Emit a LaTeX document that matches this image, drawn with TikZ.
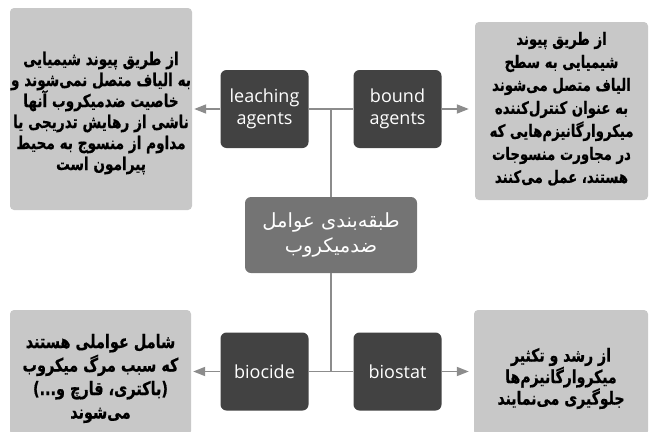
\documentclass[tikz,border=0pt]{standalone}
\usepackage{fontspec}
\setmainfont{Open Sans}
\newfontfamily\fa[Script=Arabic]{DejaVu Sans}
\newfontfamily\fab[Script=Arabic,FakeStretch=0.78,FakeBold=0.6]{DejaVu Sans Bold}
\TeXXeTstate=1
\usetikzlibrary{arrows.meta}
\definecolor{lightbox}{HTML}{C8C8C8}
\definecolor{darkbox}{HTML}{424242}
\definecolor{midbox}{HTML}{747474}
\definecolor{linecol}{HTML}{8C8C8C}
\newcommand{\RL}[1]{\beginR #1\endR}
\tikzset{
  infobox/.style={fill=lightbox, rounded corners=4pt, inner sep=0pt},
  infotext/.style={align=center, inner sep=0pt, text=black},
  termbox/.style={fill=darkbox, rounded corners=6pt, align=center, inner sep=0pt,
    minimum width=88pt, minimum height=78pt, text=white, font=\fontsize{18}{22}\selectfont},
  rootbox/.style={fill=midbox, rounded corners=6pt, align=center, inner sep=0pt,
    minimum width=172pt, minimum height=76pt, text=white, font=\fa\fontsize{19.5}{25}\selectfont},
  conn/.style={draw=linecol, line width=1.8pt},
  arr/.style={conn, -{Triangle[length=12pt,width=9pt]}, shorten >=2pt}
}
\begin{document}
\begin{tikzpicture}[x=1pt,y=-1pt]
\useasboundingbox (0,0) rectangle (652,431);
% info boxes
\node[infobox, minimum width=182pt, minimum height=202pt] (lt) at (101,109) {};
\node[infotext, font=\fab\fontsize{17.5}{21}\selectfont] (ltt) at ([yshift=-4pt]lt.center)
  {\RL{از طریق پیوند شیمیایی}\\\RL{به الیاف متصل نمی‌شوند و}\\\RL{خاصیت ضدمیکروب آنها}\\\RL{ناشی از رهایش تدریجی یا}\\\RL{مداوم از منسوج به محیط}\\\RL{پیرامون است}};
\node[infobox, minimum width=173pt, minimum height=178pt] (rt) at (561.5,111) {};
\node[infotext, font=\fab\fontsize{17}{23}\selectfont] (rtt) at ([yshift=2pt]rt.center)
  {\RL{از طریق پیوند}\\\RL{شیمیایی به سطح}\\\RL{الیاف متصل می‌شوند}\\\RL{به عنوان کنترل‌کننده}\\\RL{میکروارگانیزم‌هایی که}\\\RL{در مجاورت منسوجات}\\\RL{هستند، عمل می‌کنند}};
\node[infobox, minimum width=181pt, minimum height=125pt] (lb) at (100.5,372.5) {};
\node[infotext, font=\fab\fontsize{18.5}{23.5}\selectfont] (lbt) at ([yshift=-6pt]lb.center)
  {\RL{شامل عواملی هستند}\\\RL{که سبب مرگ میکروب}\\\RL{(باکتری، قارچ و...)}\\\RL{می‌شوند}};
\node[infobox, minimum width=174pt, minimum height=125pt] (rb) at (561,372.5) {};
\node[infotext, font=\fab\fontsize{18}{21.5}\selectfont] (rbt) at ([yshift=-6pt]rb.center)
  {\RL{از رشد و تکثیر}\\\RL{میکروارگانیزم‌ها}\\\RL{جلوگیری می‌نمایند}};
% term boxes
\node[termbox] (leach) at (264.5,109) {leaching\\agents};
\node[termbox] (bound) at (397.5,109) {bound\\agents};
\node[termbox] (biocide) at (264.5,371.5) {biocide};
\node[termbox] (biostat) at (397.5,371.5) {biostat};
\node[rootbox] (root) at (331,235) {\RL{طبقه‌بندی عوامل}\\\RL{ضدمیکروب}};
% connectors
\draw[conn] (leach.east) -- (bound.west);
\draw[conn] (root.north) -- (root.north |- leach.east);
\draw[conn] (biocide.east) -- (biostat.west);
\draw[conn] (root.south) -- (root.south |- biocide.east);
\draw[arr] (leach.west) -- (leach.west -| lt.east);
\draw[arr, shorten >=6pt] (bound.east) -- (bound.east -| rt.west);
\draw[arr] (biocide.west) -- (biocide.west -| lb.east);
\draw[arr, shorten >=5pt] (biostat.east) -- (biostat.east -| rb.west);
\end{tikzpicture}
\end{document}
